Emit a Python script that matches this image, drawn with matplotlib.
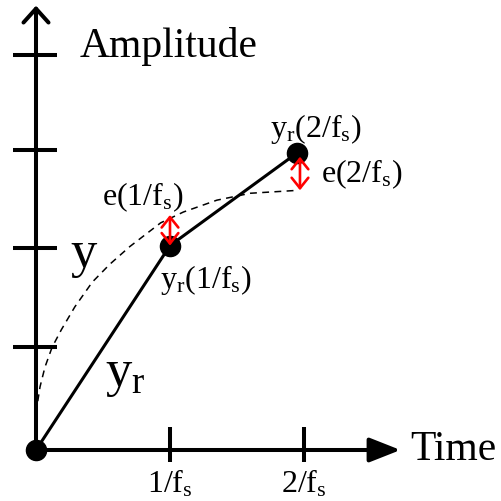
import matplotlib
matplotlib.use("Agg")
import matplotlib.pyplot as plt
from matplotlib.patches import ArrowStyle

plt.rcParams['font.family'] = ['Liberation Serif', 'DejaVu Serif']
plt.rcParams['mathtext.fontset'] = 'custom'
plt.rcParams['mathtext.rm'] = 'Liberation Serif'
plt.rcParams['mathtext.it'] = 'Liberation Serif'

# sample instants (units of 1/fs) and the sampled/reconstructed signal
sample_t = [0, 1.0, 1.95]
yr_vals = [0, 2.07, 3.01]

# continuous signal y (dashed)
y_t = [0, 0.007, 0.03, 0.067, 0.12, 0.19, 0.29, 0.42, 0.55, 0.70, 0.93, 1.10, 1.35, 1.60, 1.96]
y_vals = [0, 0.44, 0.64, 0.84, 1.04, 1.22, 1.45, 1.70, 1.88, 2.06, 2.30, 2.41, 2.53, 2.60, 2.63]

# error arrows e(k/fs): time, lower end, upper end
err_t = [1.0, 1.97]
err_lo = [2.07, 2.63]
err_hi = [2.38, 2.97]
err_labels = [r'$\mathrm{e(1/f_s)}$', r'$\mathrm{e(2/f_s)}$']

xtick_vals = [1, 2]
xtick_labels = [r'$\mathrm{1/f_s}$', r'$\mathrm{2/f_s}$']
ytick_vals = [1.04, 2.05, 3.04, 4.0]

fig = plt.figure(figsize=(5.02, 5.01), dpi=100)
ax = fig.add_axes([0, 0, 1, 1])
ax.set_xlim(-36 / 134, 466 / 134)
ax.set_ylim(-51 / 98.75, 450 / 98.75)
ax.axis('off')

# axes with arrow heads
ax.annotate('', xy=(0, 4.5), xytext=(0, 0),
            arrowprops=dict(arrowstyle=ArrowStyle('->', head_length=10, head_width=9),
                            mutation_scale=1, lw=2.9, color='black',
                            shrinkA=0, shrinkB=0))
ax.annotate('', xy=(2.72, 0), xytext=(0, 0),
            arrowprops=dict(arrowstyle=ArrowStyle('-|>', head_length=19, head_width=7.5),
                            mutation_scale=1, lw=2.9, color='black',
                            shrinkA=0, shrinkB=0))

# ticks
ax.hlines(ytick_vals, -0.17, 0.16, color='black', lw=2.9)
ax.vlines(xtick_vals, -0.12, 0.23, color='black', lw=2.9)
for t, lab in zip(xtick_vals, xtick_labels):
    ax.text(t, -0.43, lab, fontsize=23, ha='center', va='baseline')

# signals
ax.plot(y_t, y_vals, color='black', lw=1.1, linestyle=(0, (4.5, 3.5)))
ax.plot(sample_t, yr_vals, color='black', lw=2.2)
ax.plot(sample_t, yr_vals, 'o', color='black', markersize=14.5)

# error arrows
for t, lo, hi in zip(err_t, err_lo, err_hi):
    ax.annotate('', xy=(t, hi), xytext=(t, lo),
                arrowprops=dict(arrowstyle=ArrowStyle('<->', head_length=7.5, head_width=6),
                                mutation_scale=1, lw=1.9, color='red',
                                shrinkA=0, shrinkB=0))

# labels
ax.text(0.328, 3.98, 'Amplitude', fontsize=30, ha='left', va='baseline')
ax.text(2.79, -0.10, 'Time', fontsize=30, ha='left', va='baseline')
ax.text(0.254, 1.85, 'y', fontsize=38, ha='left', va='baseline')
ax.text(0.515, 0.65, r'$\mathrm{y_r}$', fontsize=38, ha='left', va='baseline')
ax.text(0.49, 2.48, err_labels[0], fontsize=23, ha='left', va='baseline')
ax.text(2.13, 2.71, err_labels[1], fontsize=23, ha='left', va='baseline')
ax.text(0.925, 1.64, r'$\mathrm{y_r(1/f_s)}$', fontsize=23, ha='left', va='baseline')
ax.text(1.75, 3.17, r'$\mathrm{y_r(2/f_s)}$', fontsize=23, ha='left', va='baseline')

fig.savefig('out.png', dpi=100)
